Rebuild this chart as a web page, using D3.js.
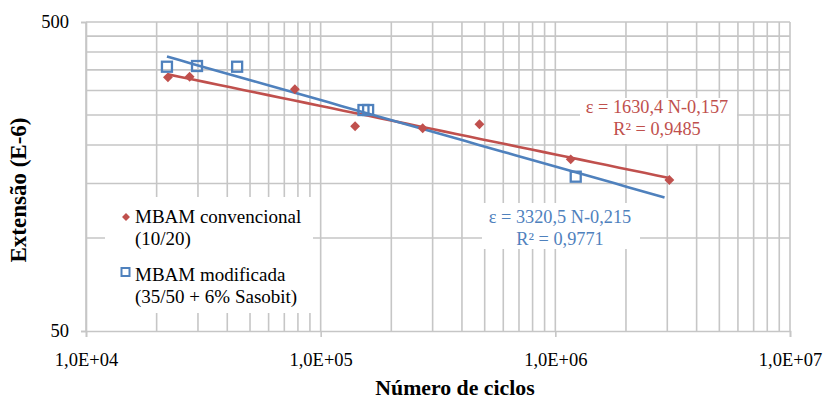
<!DOCTYPE html>
<html>
<head>
<meta charset="utf-8">
<script src="https://cdn.jsdelivr.net/npm/d3@7"></script>
<style>
  body { margin: 0; background: #fff; }
</style>
</head>
<body>
<div id="chart"></div>
<script>
// Series 1: MBAM convencional (10/20)
const convCycles = [ 22340, 27640, 77630, 140200, 272100, 474900, 1162900, 3061000 ];
const convStrain = [ 331, 332.6, 302.8, 230, 226.5, 233.3, 179.7, 154 ];

// Series 2: MBAM modificada (35/50 + 6% Sasobit)
const modCycles = [ 22130, 29720, 44060, 152200, 159300, 1221500 ];
const modStrain = [ 358.3, 360.2, 358.3, 259.5, 259.5, 157.9 ];

// Power trendlines  eps = a * N^b, as printed on the chart
const seriesNames = [ 'MBAM convencional', 'MBAM modificada' ];
const seriesNotes = [ '(10/20)', '(35/50 + 6% Sasobit)' ];
const trendA = [ 1630.4, 3320.5 ];
const trendB = [ -0.157, -0.215 ];
const trendFrom = [ 22340, 22130 ];
const trendTo = [ 3061000, 2920000 ];
const trendEq = [ 'ε = 1630,4 N-0,157', 'ε = 3320,5 N-0,215' ];
const trendR2 = [ 'R² = 0,9485', 'R² = 0,9771' ];

const xTickValues = [ 1e4, 1e5, 1e6, 1e7 ];
const xTickLabels = [ '1,0E+04', '1,0E+05', '1,0E+06', '1,0E+07' ];
const yTickValues = [ 50, 500 ];
const yGridValues = [ 100, 150, 200, 250, 300, 350, 400, 450, 500 ];

const xAxisTitle = 'Número de ciclos';
const yAxisTitle = 'Extensão (E-6)';

const red = '#C0504D', blue = '#4F81BD', grid = '#C6C6C6';
const serif = '"Liberation Serif", "Times New Roman", serif';

const figure_width = 826, figure_height = 399;
const plot_margin = { top: 22, right: 36, bottom: 68, left: 86 },
    plot_width = figure_width - plot_margin.left - plot_margin.right,
    plot_height = figure_height - plot_margin.top - plot_margin.bottom;

const svg = d3.select( 'div#chart' )
  .append( 'svg' )
    .attr( 'width', figure_width )
    .attr( 'height', figure_height );

const g = svg.append( 'g' )
  .attr( 'transform', 'translate(' + plot_margin.left + ',' + plot_margin.top + ')' );

const x = d3.scaleLog().domain( [ 1e4, 1e7 ] ).range( [ 0, plot_width ] );
const y = d3.scaleLog().domain( [ 50, 500 ] ).range( [ plot_height, 0 ] );

// gridlines
g.append( 'g' ).selectAll( 'line' )
  .data( x.ticks() )
  .enter().append( 'line' )
    .attr( 'x1', d => x( d ) ).attr( 'x2', d => x( d ) )
    .attr( 'y1', 0 ).attr( 'y2', plot_height )
    .attr( 'stroke', grid ).attr( 'stroke-width', 1.6 );

g.append( 'g' ).selectAll( 'line' )
  .data( yGridValues )
  .enter().append( 'line' )
    .attr( 'x1', 0 ).attr( 'x2', plot_width )
    .attr( 'y1', d => y( d ) ).attr( 'y2', d => y( d ) )
    .attr( 'stroke', grid ).attr( 'stroke-width', 1.6 );

// axes
const xAxis = g.append( 'g' )
  .attr( 'transform', 'translate(0,' + plot_height + ')' )
  .call( d3.axisBottom( x ).tickValues( xTickValues ).tickSize( 6 )
    .tickFormat( ( d, i ) => xTickLabels[ i ] ) );
const yAxis = g.append( 'g' )
  .call( d3.axisLeft( y ).tickValues( yTickValues ).tickSize( 5 ).tickFormat( d3.format( 'd' ) ) );

[ xAxis, yAxis ].forEach( function( a ) {
  a.select( '.domain' ).attr( 'stroke', grid ).attr( 'stroke-width', 1.6 );
  a.selectAll( '.tick line' ).attr( 'stroke', grid ).attr( 'stroke-width', 1.6 );
  a.selectAll( '.tick text' )
    .style( 'font-family', serif )
    .style( 'font-size', '18.5px' )
    .attr( 'fill', '#000' );
});
xAxis.selectAll( '.tick text' ).attr( 'y', 22 ).attr( 'dy', '0.71em' );
yAxis.selectAll( '.tick text' ).attr( 'x', -17 );

// white boxes behind legend and trendline labels
g.append( 'rect' )
  .attr( 'x', 105 - plot_margin.left ).attr( 'y', 197 - plot_margin.top )
  .attr( 'width', 208 ).attr( 'height', 116 ).attr( 'fill', '#fff' );
g.append( 'rect' )
  .attr( 'x', 580 - plot_margin.left ).attr( 'y', 98 - plot_margin.top )
  .attr( 'width', 157 ).attr( 'height', 46 ).attr( 'fill', '#fff' );
g.append( 'rect' )
  .attr( 'x', 482 - plot_margin.left ).attr( 'y', 203 - plot_margin.top )
  .attr( 'width', 158 ).attr( 'height', 46 ).attr( 'fill', '#fff' );

// trendlines
const colors = [ red, blue ];
const line = d3.line().x( d => x( d[ 0 ] ) ).y( d => y( d[ 1 ] ) );
trendA.forEach( function( a, i ) {
  const pts = d3.range( 0, 41 ).map( function( k ) {
    const n = trendFrom[ i ] * Math.pow( trendTo[ i ] / trendFrom[ i ], k / 40 );
    return [ n, a * Math.pow( n, trendB[ i ] ) ];
  });
  g.append( 'path' )
    .datum( pts )
    .attr( 'd', line )
    .attr( 'fill', 'none' )
    .attr( 'stroke', colors[ i ] )
    .attr( 'stroke-width', 2.6 );
});

// markers
const diamond = d3.symbol().type( d3.symbolDiamond2 ).size( 62 );
g.append( 'g' ).selectAll( 'path' )
  .data( convCycles.map( ( c, i ) => [ c, convStrain[ i ] ] ) )
  .enter().append( 'path' )
    .attr( 'd', diamond )
    .attr( 'transform', d => 'translate(' + x( d[ 0 ] ) + ',' + y( d[ 1 ] ) + ')' )
    .attr( 'fill', red );

g.append( 'g' ).selectAll( 'rect' )
  .data( modCycles.map( ( c, i ) => [ c, modStrain[ i ] ] ) )
  .enter().append( 'rect' )
    .attr( 'x', d => x( d[ 0 ] ) - 5 )
    .attr( 'y', d => y( d[ 1 ] ) - 5 )
    .attr( 'width', 10 ).attr( 'height', 10 )
    .attr( 'fill', 'none' )
    .attr( 'stroke', blue ).attr( 'stroke-width', 2.3 );

// trendline labels
const eqPos = [ [ 657, 113 ], [ 560, 223 ] ];
trendEq.forEach( function( t, i ) {
  const lab = svg.append( 'text' )
    .attr( 'text-anchor', 'middle' )
    .style( 'font-family', serif )
    .style( 'font-size', '18.3px' )
    .attr( 'fill', colors[ i ] );
  lab.append( 'tspan' ).attr( 'x', eqPos[ i ][ 0 ] ).attr( 'y', eqPos[ i ][ 1 ] ).text( t );
  lab.append( 'tspan' ).attr( 'x', eqPos[ i ][ 0 ] ).attr( 'y', eqPos[ i ][ 1 ] + 22 ).text( trendR2[ i ] );
});

// legend
const legend = svg.append( 'g' );
const legendY = [ 223, 281 ];
seriesNames.forEach( function( name, i ) {
  const ly = legendY[ i ];
  if ( i === 0 ) {
    legend.append( 'path' )
      .attr( 'd', d3.symbol().type( d3.symbolDiamond2 ).size( 40 ) )
      .attr( 'transform', 'translate(126,' + ( ly - 6 ) + ')' )
      .attr( 'fill', red );
  } else {
    legend.append( 'rect' )
      .attr( 'x', 121.5 ).attr( 'y', ly - 13 )
      .attr( 'width', 8 ).attr( 'height', 8 )
      .attr( 'fill', 'none' ).attr( 'stroke', blue ).attr( 'stroke-width', 2 );
  }
  const t = legend.append( 'text' )
    .style( 'font-family', serif )
    .style( 'font-size', '19px' )
    .attr( 'fill', '#000' );
  t.append( 'tspan' ).attr( 'x', 135 ).attr( 'y', ly ).text( name );
  t.append( 'tspan' ).attr( 'x', 135 ).attr( 'y', ly + 22 ).text( seriesNotes[ i ] );
});

// axis titles
svg.append( 'text' )
  .attr( 'x', 455 ).attr( 'y', 395 )
  .attr( 'text-anchor', 'middle' )
  .style( 'font-family', serif )
  .style( 'font-size', '21.8px' ).style( 'font-weight', 'bold' )
  .text( xAxisTitle );

svg.append( 'text' )
  .attr( 'transform', 'translate(26,190) rotate(-90)' )
  .attr( 'text-anchor', 'middle' )
  .style( 'font-family', serif )
  .style( 'font-size', '23px' ).style( 'font-weight', 'bold' )
  .text( yAxisTitle );
</script>
</body>
</html>
